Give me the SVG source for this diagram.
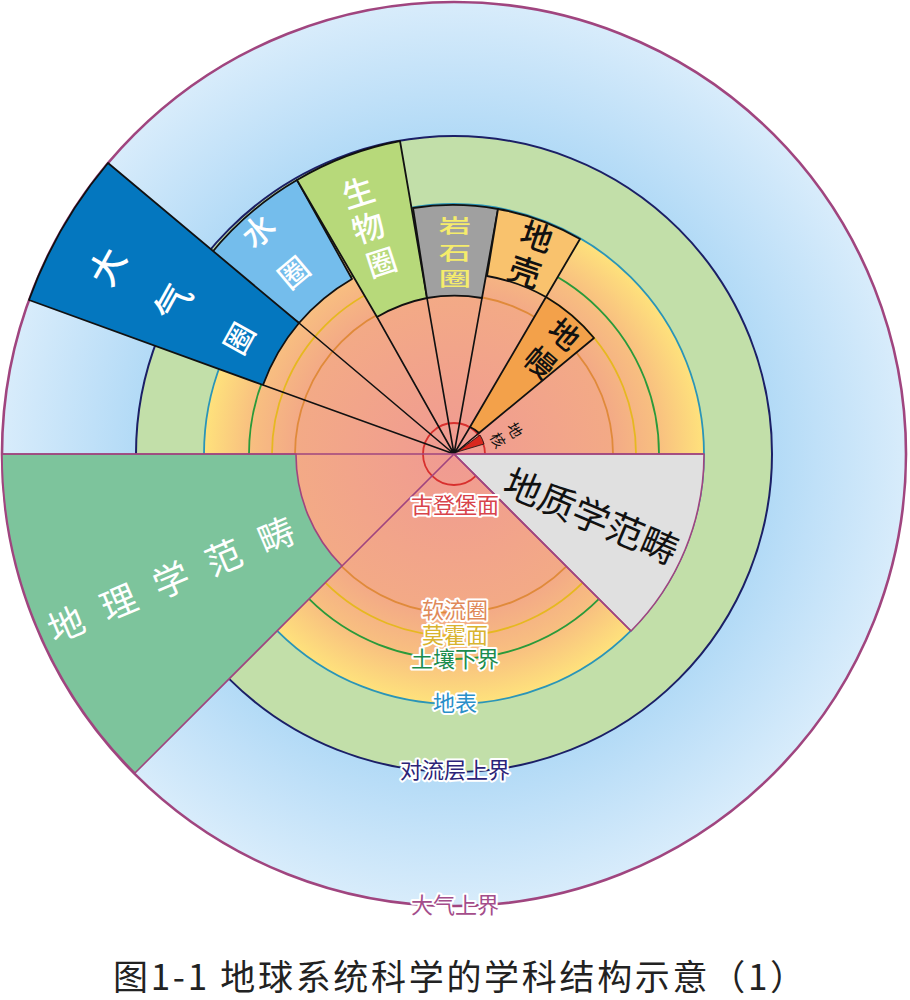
<svg xmlns="http://www.w3.org/2000/svg" width="910" height="1000" viewBox="0 0 910 1000">
<style>
.s{stroke:#111;stroke-width:1.8;stroke-linejoin:round}
.r{fill:none;stroke-width:1.8}
.sp{stroke:#111;stroke-width:1.6;fill:none}
.p{stroke:#a0457f;stroke-width:1.6;stroke-linejoin:round}
text{font-family:"Noto Sans CJK SC","Liberation Sans",sans-serif;text-anchor:middle}
.h{font-size:22px;stroke:#fff;stroke-width:4px;stroke-linejoin:round;paint-order:stroke}
.w{fill:#fff;font-weight:500}
.k{fill:#111;font-weight:500}
</style>
<defs>
<radialGradient id="sky" gradientUnits="userSpaceOnUse" cx="454" cy="454" r="452">
<stop offset="0.7" stop-color="#b2daf6"/><stop offset="0.8" stop-color="#bfe0f8"/><stop offset="1" stop-color="#d8ecfb"/>
</radialGradient>
<radialGradient id="earth" gradientUnits="userSpaceOnUse" cx="454" cy="454" r="249">
<stop offset="0" stop-color="#f09a92"/><stop offset="0.64" stop-color="#f3aa86"/><stop offset="0.82" stop-color="#f8bf80"/><stop offset="1" stop-color="#fee17c"/>
</radialGradient>
</defs>
<rect width="910" height="1000" fill="#fff"/>
<g id="rings">
<circle cx="454" cy="454" r="452" fill="url(#sky)" stroke="#a0457f" stroke-width="2.6"/>
<circle cx="454" cy="454" r="318" fill="#c2dfa9" stroke="#1b1f66" stroke-width="2"/>
<circle cx="454" cy="454" r="250" fill="url(#earth)" stroke="#2a95b8" stroke-width="1.8"/>
<circle class="r" cx="454" cy="454" r="205" stroke="#2a9a3a"/>
<circle class="r" cx="454" cy="454" r="182" stroke="#e6b820"/>
<circle class="r" cx="454" cy="454" r="159" stroke="#e08a3a"/>
<circle class="r" cx="454" cy="454" r="31" stroke="#d8302e"/>
</g>
<g id="geography-sector"><path class="p" fill="#7dc49c" d="M2 454H296A158 158 0 0 0 342 566L135 773A452 452 0 0 1 2 454Z"/>
<text fill="#fff" style="letter-spacing:21px" font-size="36" transform="translate(186 588) rotate(-23)">地理学范畴</text></g>
<g id="geology-sector"><path class="p" fill="#e0e0e0" d="M454 454H704A250 250 0 0 1 631 631Z"/>
<text fill="#111" font-size="37" transform="translate(586 529) rotate(23)">地质学范畴</text></g>
<g id="hydrosphere"><path class="s" fill="#74bdec" d="M209 256A318 318 0 0 1 297 180L352 279A205 205 0 0 0 299 323Z"/>
<g class="w" font-size="32"><text transform="translate(266 240) rotate(-40)">水</text><text font-size="30" transform="translate(301 281) rotate(-40)">圈</text></g></g>
<g id="atmosphere"><path class="s" fill="#0477bf" d="M29 300A452 452 0 0 1 108 163L299 323A205 205 0 0 0 263 385Z"/>
<g class="w" font-size="36"><text transform="translate(119 273) rotate(-61)">大</text><text transform="translate(185 309) rotate(-61)">气</text><text font-size="30" transform="translate(249 344) rotate(-61)">圈</text></g></g>
<g id="biosphere"><path class="s" fill="#b7d97a" d="M297 180A318 318 0 0 1 400 141L427 298A159 159 0 0 0 377 317Z"/>
<g class="w" font-size="32"><text transform="translate(362 204) rotate(-18)">生</text><text transform="translate(372 239) rotate(-18)">物</text><text font-size="30" transform="translate(385 273) rotate(-18)">圈</text></g></g>
<g id="lithosphere"><path class="s" fill="#a0a0a0" d="M413 208A250 250 0 0 1 498 209L482 298A159 159 0 0 0 427 298Z"/>
<g fill="#f5ec6b" font-size="24" font-weight="500"><text transform="translate(455 233) scale(1.35 .8)">岩</text><text transform="translate(455 260) scale(1.35 .8)">石</text><text transform="translate(455 286) scale(1.35 .8)">圈</text></g></g>
<g id="crust"><path class="s" fill="#f9c26d" d="M498 209A250 250 0 0 1 580 239L546 297A182 182 0 0 0 487 276Z"/>
<g class="k" font-size="32"><text transform="translate(533 248) rotate(19)">地</text><text transform="translate(521 283) rotate(19)">壳</text></g></g>
<g id="mantle"><path class="s" fill="#f3a14a" d="M546 297A182 182 0 0 1 594 338L479 433A31 31 0 0 0 470 427Z"/>
<g class="k" font-size="30"><text transform="translate(557 343) rotate(40)">地</text><text transform="translate(533 371) rotate(40)">幔</text></g></g>
<g id="core"><path fill="#d9271e" stroke="#111" stroke-width=".8" d="M457 452L480 435A31 31 0 0 1 484 444Z"/>
<g fill="#111" font-size="15"><text transform="translate(510 433) rotate(60)">地</text><text transform="translate(493 443) rotate(60)">核</text></g></g>
<g id="connectors">
<path class="sp" d="M263 385L454 454M299 323L454 454M377 317L454 454M427 298L454 454M482 298L454 454M470 427L454 454M479 433L454 454"/>
<path class="p" fill="none" d="M2 454H704M454 454L342 566M454 454L631 631"/>
</g>
<g id="labels">
<text class="h" x="455" y="618" fill="#e08a5a">软流圈</text>
<text class="h" x="455" y="643" fill="#d9b42f">莫霍面</text>
<text class="h" x="455" y="667" fill="#1c8c4d">土壤下界</text>
<text class="h" x="455" y="513" fill="#d8434a">古登堡面</text>
<text class="h" x="455" y="711" fill="#2a8fc9">地表</text>
<text class="h" x="455" y="778" fill="#2c2378">对流层上界</text>
<text class="h" x="455" y="913" fill="#a44d8b">大气上界</text>
</g>
<text id="title" x="459" y="990" font-size="35" fill="#222" textLength="692" lengthAdjust="spacing">图1-1  地球系统科学的学科结构示意（1）</text>
</svg>
